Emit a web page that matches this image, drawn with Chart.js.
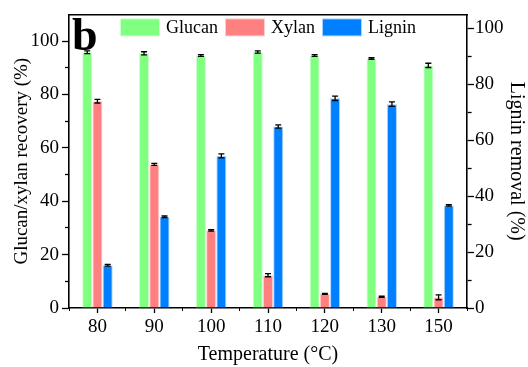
<!DOCTYPE html>
<html><head><meta charset="utf-8">
<script src="https://cdn.jsdelivr.net/npm/chart.js@4"></script>
<style>html,body{margin:0;padding:0;background:#fff}</style>
</head><body>
<canvas id="c" width="528" height="367" style="display:block;width:528px;height:367px"></canvas>
<script>
const temperatures = ['80', '90', '100', '110', '120', '130', '150'];
const glucan    = [95.8, 95.4, 94.6, 95.9, 94.6, 93.5, 90.9];
const glucanErr = [0.5, 0.6, 0.3, 0.4, 0.3, 0.3, 0.8];
const xylan     = [77.5, 53.8, 29.1, 12.3, 5.3, 4.2, 4.0];
const xylanErr  = [0.7, 0.4, 0.3, 0.6, 0.2, 0.2, 0.9];
const lignin    = [15.3, 32.6, 54.4, 64.9, 75.0, 72.9, 36.7];
const ligninErr = [0.3, 0.3, 0.7, 0.6, 0.8, 0.8, 0.3];
const leftTickLabels  = [0, 20, 40, 60, 80, 100];
const rightTickLabels = [0, 20, 40, 60, 80, 100];
const rightTickMarks  = [0, 10, 20, 30, 40, 50, 60, 70, 80, 90, 100];

const SERIF = '"Liberation Serif", "Times New Roman", serif';
Chart.defaults.color = '#000';
Chart.defaults.font.family = SERIF;

const errorBars = {
  id: 'errorBars',
  afterDatasetsDraw(chart) {
    const ctx = chart.ctx;
    chart.data.datasets.forEach((ds, i) => {
      const meta = chart.getDatasetMeta(i);
      const sc = chart.scales[meta.yAxisID];
      meta.data.forEach((bar, j) => {
        const v = ds.data[j], e = ds.errors[j];
        const x = bar.x;
        const y1 = sc.getPixelForValue(v + e), y2 = sc.getPixelForValue(v - e);
        ctx.save();
        ctx.strokeStyle = '#000';
        ctx.lineWidth = 1.3;
        ctx.beginPath();
        ctx.moveTo(x, y1); ctx.lineTo(x, y2);
        ctx.moveTo(x - 3, y1); ctx.lineTo(x + 3, y1);
        ctx.moveTo(x - 3, y2); ctx.lineTo(x + 3, y2);
        ctx.stroke();
        ctx.restore();
      });
    });
  }
};

const panelLabel = {
  id: 'panelLabel',
  afterDraw(chart) {
    const ctx = chart.ctx;
    ctx.save();
    ctx.font = 'bold 46px ' + SERIF;
    ctx.fillStyle = '#000';
    ctx.textBaseline = 'alphabetic';
    ctx.textAlign = 'left';
    ctx.fillText('b', 72, 50);
    ctx.restore();
  }
};

// Legend drawn inside the plot area (horizontal row, centred)
const insideLegend = {
  id: 'insideLegend',
  afterDraw(chart) {
    const ctx = chart.ctx;
    const area = chart.chartArea;
    const boxW = 40, boxH = 18, gapText = 6, gapItem = 7;
    ctx.save();
    ctx.font = '18px ' + SERIF;
    const items = chart.data.datasets.map(ds => ({
      text: ds.label, fill: ds.backgroundColor, stroke: ds.borderColor,
      w: ctx.measureText(ds.label).width
    }));
    let total = 0;
    items.forEach((it, i) => { total += boxW + gapText + it.w + (i < items.length - 1 ? gapItem : 0); });
    let x = (area.left + area.right) / 2 - total / 2;
    const top = area.top + 4;
    items.forEach(it => {
      ctx.fillStyle = it.stroke;
      ctx.fillRect(x, top, boxW, boxH);
      ctx.fillStyle = it.fill;
      ctx.fillRect(x + 1, top + 1, boxW - 2, boxH - 2);
      ctx.fillStyle = '#000';
      ctx.textBaseline = 'middle';
      ctx.textAlign = 'left';
      ctx.fillText(it.text, x + boxW + gapText, top + boxH / 2 + 1);
      x += boxW + gapText + it.w + gapItem;
    });
    ctx.restore();
  }
};

function tickVal(c) { return c && c.tick ? c.tick.value : null; }

new Chart(document.getElementById('c'), {
  type: 'bar',
  data: {
    labels: temperatures,
    datasets: [
      { label: 'Glucan', data: glucan, errors: glucanErr, yAxisID: 'y',
        backgroundColor: '#80FF80', borderColor: '#CCFFCC', borderWidth: 1 },
      { label: 'Xylan', data: xylan, errors: xylanErr, yAxisID: 'y',
        backgroundColor: '#FF8080', borderColor: '#FFCCCC', borderWidth: 1 },
      { label: 'Lignin', data: lignin, errors: ligninErr, yAxisID: 'y2',
        backgroundColor: '#0080FF', borderColor: '#A8D4FF', borderWidth: 1 }
    ]
  },
  options: {
    responsive: false,
    animation: false,
    devicePixelRatio: 1,
    categoryPercentage: 0.54,
    barPercentage: 0.98,
    layout: { padding: { top: 11, left: 0, right: 0, bottom: 0 } },
    plugins: {
      tooltip: { enabled: false },
      legend: { display: false }
    },
    scales: {
      x: {
        type: 'category',
        position: 'bottom',
        offset: true,
        weight: 1,
        grid: { display: true, drawOnChartArea: false, offset: false, tickLength: 5, tickColor: '#000', tickWidth: 1.3 },
        border: { display: true, color: '#000', width: 1.6 },
        ticks: { font: { size: 19, family: SERIF }, padding: 3, maxRotation: 0, autoSkip: false },
        title: { display: true, text: 'Temperature (°C)', font: { size: 20, family: SERIF }, padding: { top: 3, bottom: 0 } },
        afterFit(s) { s.height = 59; }
      },
      xMinor: {
        type: 'category',
        position: 'bottom',
        offset: true,
        weight: 0,
        grid: { display: true, drawOnChartArea: false, offset: true, tickLength: 3, tickColor: '#000', tickWidth: 1 },
        border: { display: false },
        ticks: { display: false },
        afterFit(s) { s.height = 0; }
      },
      xTop: {
        type: 'category',
        position: 'top',
        offset: true,
        grid: { display: true, drawOnChartArea: false, drawTicks: false },
        border: { display: true, color: '#000', width: 1.6 },
        ticks: { display: false },
        afterFit(s) { s.height = 0; }
      },
      y: {
        type: 'linear',
        position: 'left',
        min: 0, max: 110,
        grid: {
          display: true, drawOnChartArea: false, tickLength: 7, tickWidth: 1.3,
          tickColor: c => (tickVal(c) !== null && tickVal(c) > 100) ? 'rgba(0,0,0,0)' : '#000',
          tickBorderDash: c => leftTickLabels.includes(tickVal(c)) ? [] : [4, 3],
          tickBorderDashOffset: c => leftTickLabels.includes(tickVal(c)) ? 0 : 4
        },
        border: { display: true, color: '#000', width: 1.6 },
        ticks: {
          stepSize: 10, autoSkip: false, padding: 3,
          font: { size: 19, family: SERIF },
          callback: v => leftTickLabels.includes(v) ? String(v) : ''
        },
        title: { display: true, text: 'Glucan/xylan recovery (%)', font: { size: 19, family: SERIF }, padding: { top: 11, bottom: 0 } },
        afterFit(s) { s.width = 69; }
      },
      y2: {
        type: 'linear',
        position: 'right',
        min: 0, max: 105,
        afterBuildTicks(s) { s.ticks = rightTickMarks.map(v => ({ value: v })); },
        grid: {
          display: true, drawOnChartArea: false, tickLength: 7, tickWidth: 1.3,
          tickColor: '#000',
          tickBorderDash: c => rightTickLabels.includes(tickVal(c)) ? [] : [4, 100],
          tickBorderDashOffset: 0
        },
        border: { display: true, color: '#000', width: 1.6 },
        ticks: {
          autoSkip: false, padding: 1,
          font: { size: 19, family: SERIF },
          callback: v => rightTickLabels.includes(v) ? String(v) : ''
        },
        title: { display: true, text: 'Lignin removal (%)', font: { size: 20, family: SERIF }, padding: { top: 0, bottom: 0 } },
        afterFit(s) { s.width = 61; }
      }
    }
  },
  plugins: [errorBars, panelLabel, insideLegend]
});
</script>
</body></html>
